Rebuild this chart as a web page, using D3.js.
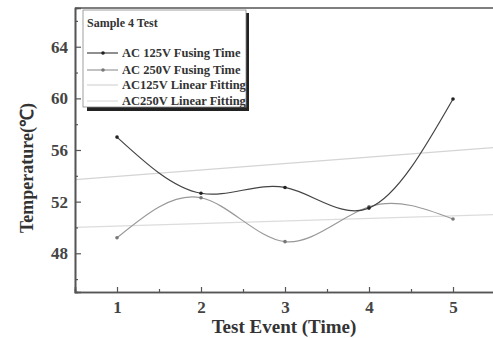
<!DOCTYPE html>
<html>
<head>
<meta charset="utf-8">
<script src="https://cdn.jsdelivr.net/npm/d3@7"></script>
<style>
  body { margin: 0; background: #fff; }
  svg { display: block; font-family: "Liberation Serif", "Times New Roman", serif; font-weight: bold; }
</style>
</head>
<body>
<svg id="chart" width="493" height="338"></svg>
<script>
const events = [1, 2, 3, 4, 5];
const ac125 = [57.0, 52.65, 53.1, 51.5, 59.95];
const ac250 = [49.2, 52.3, 48.9, 51.6, 50.65];
// linear fitting lines, values read at x = 0.5 and x = 5.5
const fitX = [0.5, 5.5];
const fit125 = [53.7, 56.2];
const fit250 = [50.0, 51.0];
const yTicks = [48, 52, 56, 60, 64];
const yMinor = [46, 50, 54, 58, 62, 66];
const xMinor = [1.5, 2.5, 3.5, 4.5];
const legendItems = ["AC 125V Fusing Time", "AC 250V Fusing Time", "AC125V Linear Fitting", "AC250V Linear Fitting"];

const svg = d3.select("#chart");
const mLeft = 75, mRight = 495, mTop = 8, mBottom = 292;

const x = d3.scaleLinear().domain([0.5, 5.5]).range([mLeft, mRight]);
const y = d3.scaleLinear().domain([45, 67]).range([mBottom, mTop]);

const axisColor = "#555";

// fit lines
const fitLine = d3.line().x(d => x(d[0])).y(d => y(d[1]));
svg.append("path").datum(fitX.map((v, i) => [v, fit125[i]]))
  .attr("d", fitLine).attr("fill", "none").attr("stroke", "#d4d4d4").attr("stroke-width", 1.3);
svg.append("path").datum(fitX.map((v, i) => [v, fit250[i]]))
  .attr("d", fitLine).attr("fill", "none").attr("stroke", "#dcdcdc").attr("stroke-width", 1.3);

// data curves
const curve = d3.line().x(d => x(d[0])).y(d => y(d[1])).curve(d3.curveNatural);
const series = [
  {vals: ac250, color: "#999"},
  {vals: ac125, color: "#444"}
];
series.forEach(s => {
  const pts = events.map((e, i) => [e, s.vals[i]]);
  svg.append("path").datum(pts).attr("d", curve)
    .attr("fill", "none").attr("stroke", s.color).attr("stroke-width", 1.2);
  svg.append("g").selectAll("circle").data(pts).enter().append("circle")
    .attr("cx", d => x(d[0])).attr("cy", d => y(d[1])).attr("r", 1.8)
    .attr("fill", s.color === "#999" ? "#777" : "#222");
});

// axes
svg.append("g").attr("transform", `translate(${mLeft},0)`)
  .call(d3.axisLeft(y).tickValues(yTicks).tickSize(-6).tickPadding(7).tickFormat(d3.format("d")));
svg.append("g").attr("transform", `translate(${mLeft},0)`)
  .call(d3.axisLeft(y).tickValues(yMinor).tickSize(-3).tickFormat(""));
svg.append("g").attr("transform", `translate(0,${mBottom})`)
  .call(d3.axisBottom(x).tickValues(events).tickSize(-5).tickPadding(9).tickFormat(d3.format("d")));
svg.append("g").attr("transform", `translate(0,${mBottom})`)
  .call(d3.axisBottom(x).tickValues(xMinor).tickSize(-3).tickFormat(""));
svg.selectAll(".domain").attr("stroke", axisColor).attr("stroke-width", 1.6);
svg.selectAll(".tick line").attr("stroke", axisColor).attr("stroke-width", 1.2);
svg.selectAll(".tick text").attr("font-size", 17).attr("font-family", "Liberation Serif, serif")
  .attr("font-weight", "bold").attr("fill", "#444");

// top border
svg.append("line").attr("x1", mLeft).attr("x2", 493).attr("y1", mTop).attr("y2", mTop)
  .attr("stroke", axisColor).attr("stroke-width", 1.6);

// axis titles
svg.append("text").attr("transform", "translate(33,168) rotate(-90)")
  .attr("text-anchor", "middle").attr("font-size", 18).attr("fill", "#333")
  .text("Temperature(℃)");
svg.append("text").attr("x", 284).attr("y", 333)
  .attr("text-anchor", "middle").attr("font-size", 19).attr("fill", "#333")
  .text("Test Event (Time)");

// legend
const lg = svg.append("g");
lg.append("rect").attr("x", 87).attr("y", 13).attr("width", 162).attr("height", 98).attr("fill", "#222");
lg.append("rect").attr("x", 83).attr("y", 10).attr("width", 163).attr("height", 97)
  .attr("fill", "#fff").attr("stroke", "#888").attr("stroke-width", 0.8);
lg.append("text").attr("x", 87).attr("y", 27).attr("font-size", 12).attr("fill", "#333").text("Sample 4 Test");
const legendColors = ["#444", "#999", "#d4d4d4", "#dcdcdc"];
const legendY = [57, 74, 89, 105];
legendItems.forEach((name, i) => {
  const yy = legendY[i] - 4;
  lg.append("line").attr("x1", 87).attr("x2", 118).attr("y1", yy).attr("y2", yy)
    .attr("stroke", legendColors[i]).attr("stroke-width", 1.2);
  if (i < 2) {
    lg.append("circle").attr("cx", 103).attr("cy", yy).attr("r", 1.8)
      .attr("fill", i === 0 ? "#222" : "#777");
  }
  lg.append("text").attr("x", 122).attr("y", legendY[i]).attr("font-size", 12.5)
    .attr("fill", "#333").text(name);
});
</script>
</body>
</html>
